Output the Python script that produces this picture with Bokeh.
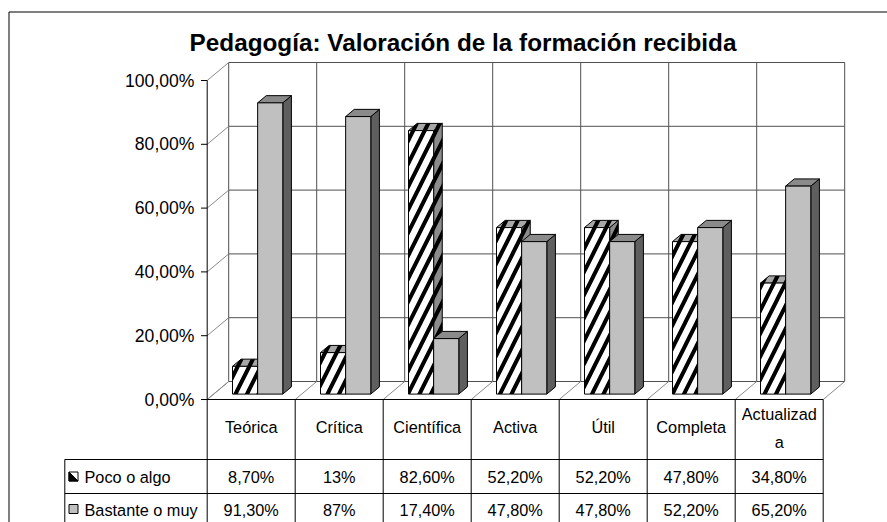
from bokeh.plotting import figure
from bokeh.models import Range1d
from bokeh.core.properties import value
from bokeh.embed import file_html
from bokeh.resources import INLINE

# ---------------- data ----------------
categories = ["Teórica", "Crítica", "Científica", "Activa", "Útil", "Completa", "Actualizada"]
category_display = ["Teórica", "Crítica", "Científica", "Activa", "Útil", "Completa", "Actualizad\na"]
series_names = ["Poco o algo", "Bastante o muy"]
poco = [8.7, 13.0, 82.6, 52.2, 52.2, 47.8, 34.8]
bastante = [91.3, 87.0, 17.4, 47.8, 47.8, 52.2, 65.2]
poco_labels = ["8,70%", "13%", "82,60%", "52,20%", "52,20%", "47,80%", "34,80%"]
bastante_labels = ["91,30%", "87%", "17,40%", "47,80%", "47,80%", "52,20%", "65,20%"]
y_ticks = [0, 20, 40, 60, 80, 100]
y_tick_labels = ["0,00%", "20,00%", "40,00%", "60,00%", "80,00%", "100,00%"]
title_text = "Pedagogía: Valoración de la formación recibida"

# ---------------- layout calibration (page pixels) ----------------
W_PX, H_PX = 887, 522
PAGE = 0
X0_PX = 206.7   # front plane, start of first category
CW_PX = 88.0    # width of one category
Y0_PX = 399.0   # front plane, 0 %
YS_PX = 3.19    # pixels per percent


def fx(px):
    return (px - X0_PX) / CW_PX


def fy(py):
    return (Y0_PX - py) / YS_PX


DX = 21.5 / CW_PX      # depth offset in x (category units)
DY = 18.0 / YS_PX      # depth offset in y (percent units)
n = len(categories)
FONT = "Liberation Sans"
GRID = "#505050"
WALL = "#8a8a8a"

p = figure(width=W_PX, height=H_PX, output_backend="svg", toolbar_location=None,
           x_range=Range1d(fx(PAGE), fx(PAGE + W_PX)),
           y_range=Range1d(fy(PAGE + H_PX), fy(PAGE)),
           x_axis_type=None, y_axis_type=None, min_border=0)
p.outline_line_color = None
p.background_fill_color = "white"
p.border_fill_color = "white"

# ---------------- outer border (top & left visible) ----------------
p.segment(x0=[fx(8.5), fx(8.5)], y0=[fy(11.5), fy(11.5)],
          x1=[fx(8.5), fx(PAGE + W_PX + 5)], y1=[fy(PAGE + H_PX + 5), fy(11.5)],
          line_color="black", line_width=1)

# ---------------- walls & floor ----------------
top = max(y_ticks)
p.multi_line(xs=[[DX, n + DX] for _ in y_ticks], ys=[[t + DY, t + DY] for t in y_ticks],
             line_color=GRID, line_width=1)
p.multi_line(xs=[[i + DX, i + DX] for i in range(n + 1)], ys=[[DY, top + DY] for _ in range(n + 1)],
             line_color=GRID, line_width=1)
p.multi_line(xs=[[0, DX] for _ in y_ticks], ys=[[t, t + DY] for t in y_ticks],
             line_color=WALL, line_width=1)
p.multi_line(xs=[[i, i + DX] for i in range(n + 1)], ys=[[0, DY] for _ in range(n + 1)],
             line_color=WALL, line_width=1)

# ---------------- bars ----------------
BW = 1 / 3.5
OFF = 0.75 * BW
D0, D1 = 0.3, 0.7


def bar_faces(vals, k):
    xs_f, ys_f, xs_t, ys_t, xs_s, ys_s = [], [], [], [], [], []
    ddx, ddy = DX * (D1 - D0), DY * (D1 - D0)
    for i, v in enumerate(vals):
        xl = i + OFF + k * BW + DX * D0
        xr = xl + BW
        yb = DY * D0
        yt = v + DY * D0
        xs_f.append([xl, xr, xr, xl]); ys_f.append([yb, yb, yt, yt])
        xs_t.append([xl, xr, xr + ddx, xl + ddx]); ys_t.append([yt, yt, yt + ddy, yt + ddy])
        xs_s.append([xr, xr + ddx, xr + ddx, xr]); ys_s.append([yb, yb + ddy, yt + ddy, yt])
    return (xs_f, ys_f), (xs_t, ys_t), (xs_s, ys_s)


hatch = dict(hatch_pattern="/", hatch_color="black", hatch_weight=4, hatch_scale=23)
(f, t, s) = bar_faces(poco, 0)
p.patches(xs=s[0], ys=s[1], fill_color="#8c8c8c", line_color="black", line_width=1, **hatch)
p.patches(xs=t[0], ys=t[1], fill_color="#a8a8a8", line_color="black", line_width=1, **hatch)
p.patches(xs=f[0], ys=f[1], fill_color="white", line_color="black", line_width=1, **hatch)

(f, t, s) = bar_faces(bastante, 1)
p.patches(xs=s[0], ys=s[1], fill_color="#5f5f5f", line_color="black", line_width=1)
p.patches(xs=t[0], ys=t[1], fill_color="#8a8a8a", line_color="black", line_width=1)
p.patches(xs=f[0], ys=f[1], fill_color="#c0c0c0", line_color="black", line_width=1)

# ---------------- front value axis ----------------
p.segment(x0=[0], y0=[0], x1=[0], y1=[top], line_color="black", line_width=1)
p.segment(x0=[fx(200.5)] * len(y_ticks), y0=y_ticks, x1=[0] * len(y_ticks), y1=y_ticks,
          line_color="black", line_width=1)
p.text(x=[fx(194)] * len(y_ticks), y=y_ticks, text=y_tick_labels,
       text_font=value(FONT), text_font_size="17.6px", text_align="right",
       text_baseline="middle", text_color="black")

# ---------------- data table ----------------
R1, R2 = fy(459), fy(493)
XL = fx(64.3)
YB = fy(PAGE + H_PX + 5)
p.multi_line(xs=[[i, i] for i in range(n + 1)], ys=[[0, YB] for _ in range(n + 1)],
             line_color="black", line_width=1)
p.multi_line(xs=[[0, n], [XL, n], [XL, n], [XL, XL]], ys=[[0, 0], [R1, R1], [R2, R2], [R1, YB]],
             line_color="black", line_width=1)

cx = [i + 0.5 for i in range(n)]
p.text(x=cx[:-1], y=[fy(426)] * (n - 1), text=category_display[:-1],
       text_font=value(FONT), text_font_size="16.3px", text_align="center",
       text_baseline="middle", text_color="black")
p.text(x=cx[-1:], y=[fy(427.5)], text=category_display[-1:],
       text_font=value(FONT), text_font_size="16.3px", text_align="center",
       text_baseline="middle", text_color="black", text_line_height=1.55)
p.text(x=cx, y=[fy(476)] * n, text=poco_labels,
       text_font=value(FONT), text_font_size="16.3px", text_align="center",
       text_baseline="middle", text_color="black")
p.text(x=cx, y=[fy(509)] * n, text=bastante_labels,
       text_font=value(FONT), text_font_size="16.3px", text_align="center",
       text_baseline="middle", text_color="black")

# legend keys + names
kx0, kx1 = fx(68.5), fx(77.5)
k1y0, k1y1 = fy(480.5), fy(471.5)
k2y0, k2y1 = fy(513), fy(504)
p.patches(xs=[[kx0, kx1, kx1, kx0]], ys=[[k1y0, k1y0, k1y1, k1y1]],
          fill_color="white", line_color="black", line_width=1)
p.patches(xs=[[kx0, kx1, kx0]], ys=[[k1y0, k1y0, k1y1]],
          fill_color="black", line_color="black", line_width=1)
p.patches(xs=[[kx0, kx1, kx1, kx0]], ys=[[k2y0, k2y0, k2y1, k2y1]],
          fill_color="#c0c0c0", line_color="black", line_width=1)
p.text(x=[fx(84)] * 2, y=[fy(476), fy(509)], text=series_names,
       text_font=value(FONT), text_font_size="16.3px", text_align="left",
       text_baseline="middle", text_color="black")

# ---------------- title ----------------
p.text(x=[fx(462.5)], y=[fy(42)], text=[title_text],
       text_font=value(FONT), text_font_size="24.3px", text_font_style="bold",
       text_align="center", text_baseline="alphabetic", text_color="black")

open("out.html", "w").write(file_html(p, INLINE))
